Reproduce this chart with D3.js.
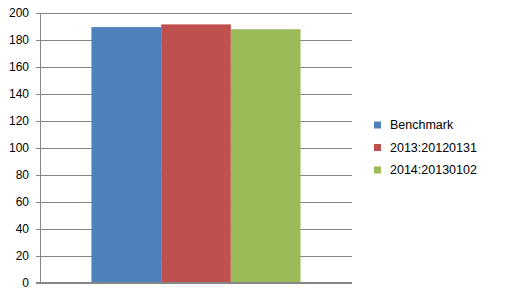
<!DOCTYPE html>
<html>
<head>
<meta charset="utf-8">
<script src="https://cdn.jsdelivr.net/npm/d3@7"></script>
<style>
  body { margin: 0; background: #fff; }
  svg { display: block; font-family: "Liberation Sans", Arial, sans-serif; }
</style>
</head>
<body>
<div id="chart"></div>
<script>
const series = ['Benchmark', '2013:20120131', '2014:20130102'];
const values = [189.2, 191.2, 187.6];
const colors = ['#4f81bd', '#c0504d', '#9bbb59'];
const yTicks = [0, 20, 40, 60, 80, 100, 120, 140, 160, 180, 200];

const size = { width: 509, height: 292 };
const margin = { top: 12.5, right: 157, bottom: 9.5, left: 40 };
const inner = {
	width: size.width - margin.left - margin.right,
	height: size.height - margin.top - margin.bottom,
};

const svg = d3.select('#chart').append('svg')
	.attr('width', size.width).attr('height', size.height);

const graph = svg.append('g')
	.attr('transform', `translate(${margin.left}, ${margin.top})`);

const scale = {
	x: d3.scaleBand().domain([0]).range([0, inner.width]).paddingInner(0).paddingOuter(0.246),
	y: d3.scaleLinear().domain([0, 200]).range([inner.height, 0]),
};
const sub = d3.scaleBand().domain(series).range([0, scale.x.bandwidth()]);

// gridlines + y axis
const axisY = graph.append('g')
	.call(d3.axisLeft(scale.y).tickValues(yTicks).tickSize(0).tickPadding(0));
axisY.select('.domain').remove();
axisY.selectAll('.tick line')
	.attr('x1', -4).attr('x2', inner.width)
	.attr('stroke', '#868686').attr('shape-rendering', 'crispEdges');
axisY.selectAll('.tick text')
	.attr('x', -11).attr('fill', '#000').style('font-size', '12px');

graph.append('line')
	.attr('x1', 0).attr('x2', 0).attr('y1', 0).attr('y2', inner.height)
	.attr('stroke', '#868686').attr('shape-rendering', 'crispEdges');

// bars
graph.append('g').selectAll('rect')
	.data(series)
	.join('rect')
	.attr('x', (d) => scale.x(0) + sub(d))
	.attr('width', sub.bandwidth())
	.attr('y', (d, i) => scale.y(values[i]))
	.attr('height', (d, i) => inner.height - scale.y(values[i]))
	.attr('fill', (d, i) => colors[i]);

// redraw baseline over bars
graph.append('line')
	.attr('x1', -4).attr('x2', inner.width)
	.attr('y1', inner.height).attr('y2', inner.height)
	.attr('stroke', '#868686').attr('shape-rendering', 'crispEdges');

// legend
const legend = svg.append('g').attr('transform', 'translate(374, 125)');
const item = legend.selectAll('g')
	.data(series)
	.join('g')
	.attr('transform', (d, i) => `translate(0, ${i * 22.5})`);
item.append('rect')
	.attr('x', 0).attr('y', -3.5).attr('width', 7).attr('height', 7)
	.attr('fill', (d, i) => colors[i]);
item.append('text')
	.attr('x', 16).attr('y', 0).attr('dy', '0.35em')
	.style('font-size', '12.5px').attr('fill', '#000')
	.text((d) => d);
</script>
</body>
</html>
